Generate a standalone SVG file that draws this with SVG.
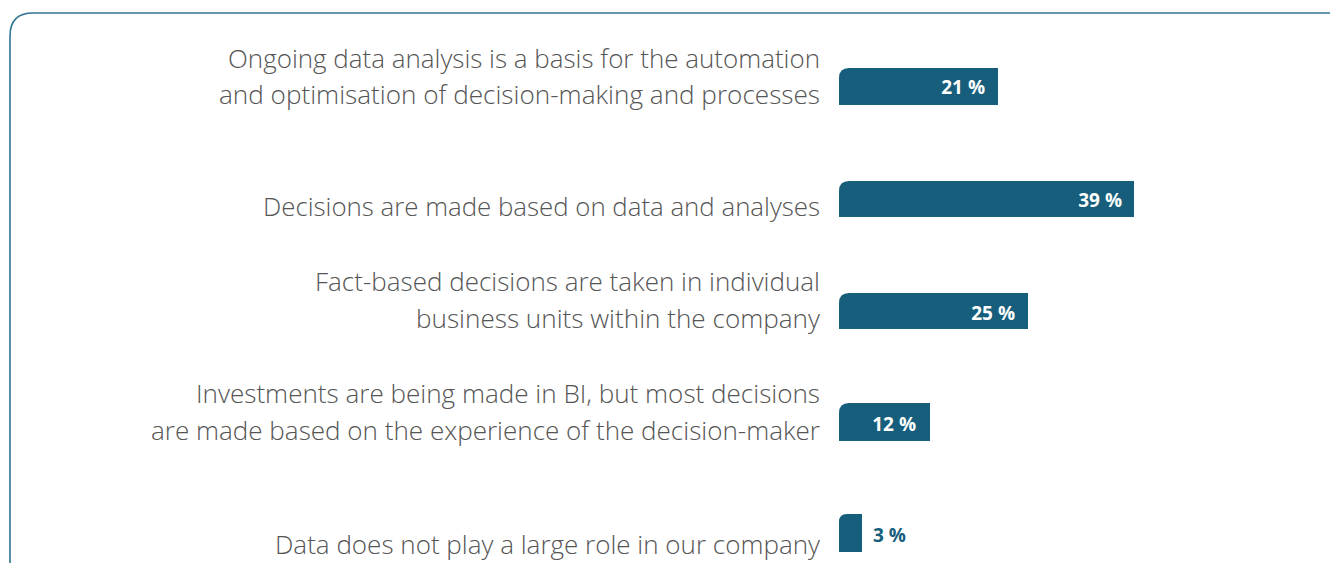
<svg xmlns="http://www.w3.org/2000/svg" width="1330" height="563" viewBox="0 0 1330 563">
<style>
.frame{fill:none;stroke:#2f7592;stroke-width:1.6}
.bar{fill:#165e7b}
.lbl{font-family:"Open Sans","Liberation Sans",sans-serif;font-weight:300;font-size:25px;fill:#555555;text-anchor:end}
.val{font-family:"Open Sans","Liberation Sans",sans-serif;font-weight:700;font-size:19px;fill:#ffffff;text-anchor:end}
.valout{font-family:"Open Sans","Liberation Sans",sans-serif;font-weight:700;font-size:19px;fill:#165e7b}
</style>
<rect width="1330" height="563" fill="#ffffff"/>
<path class="frame" d="M10,563 V36 Q10,13 33,13 H1330"/>
<g id="row1">
<text class="lbl" x="820" y="68" textLength="592" lengthAdjust="spacingAndGlyphs">Ongoing data analysis is a basis for the automation</text>
<text class="lbl" x="820" y="104" textLength="601" lengthAdjust="spacingAndGlyphs">and optimisation of decision-making and processes</text>
<path class="bar" d="M839,105 V78 Q839,68 849,68 H998 V105 Z"/>
<text class="val" x="985" y="94">21 %</text>
</g>
<g id="row2">
<text class="lbl" x="820" y="216" textLength="557" lengthAdjust="spacingAndGlyphs">Decisions are made based on data and analyses</text>
<path class="bar" d="M839,217 V191 Q839,181 849,181 H1134 V217 Z"/>
<text class="val" x="1122" y="207">39 %</text>
</g>
<g id="row3">
<text class="lbl" x="820" y="291" textLength="505" lengthAdjust="spacingAndGlyphs">Fact-based decisions are taken in individual</text>
<text class="lbl" x="820" y="328" textLength="404" lengthAdjust="spacingAndGlyphs">business units within the company</text>
<path class="bar" d="M839,329 V303 Q839,293 849,293 H1028 V329 Z"/>
<text class="val" x="1015" y="320">25 %</text>
</g>
<g id="row4">
<text class="lbl" x="820" y="403" textLength="624" lengthAdjust="spacingAndGlyphs">Investments are being made in BI, but most decisions</text>
<text class="lbl" x="820" y="440" textLength="669" lengthAdjust="spacingAndGlyphs">are made based on the experience of the decision-maker</text>
<path class="bar" d="M839,441 V413 Q839,403 849,403 H930 V441 Z"/>
<text class="val" x="916" y="431">12 %</text>
</g>
<g id="row5">
<text class="lbl" x="820" y="554" textLength="545" lengthAdjust="spacingAndGlyphs">Data does not play a large role in our company</text>
<path class="bar" d="M839,552 V522 Q839,514 847,514 H862 V552 Z"/>
<text class="valout" x="873" y="542">3 %</text>
</g>
</svg>
